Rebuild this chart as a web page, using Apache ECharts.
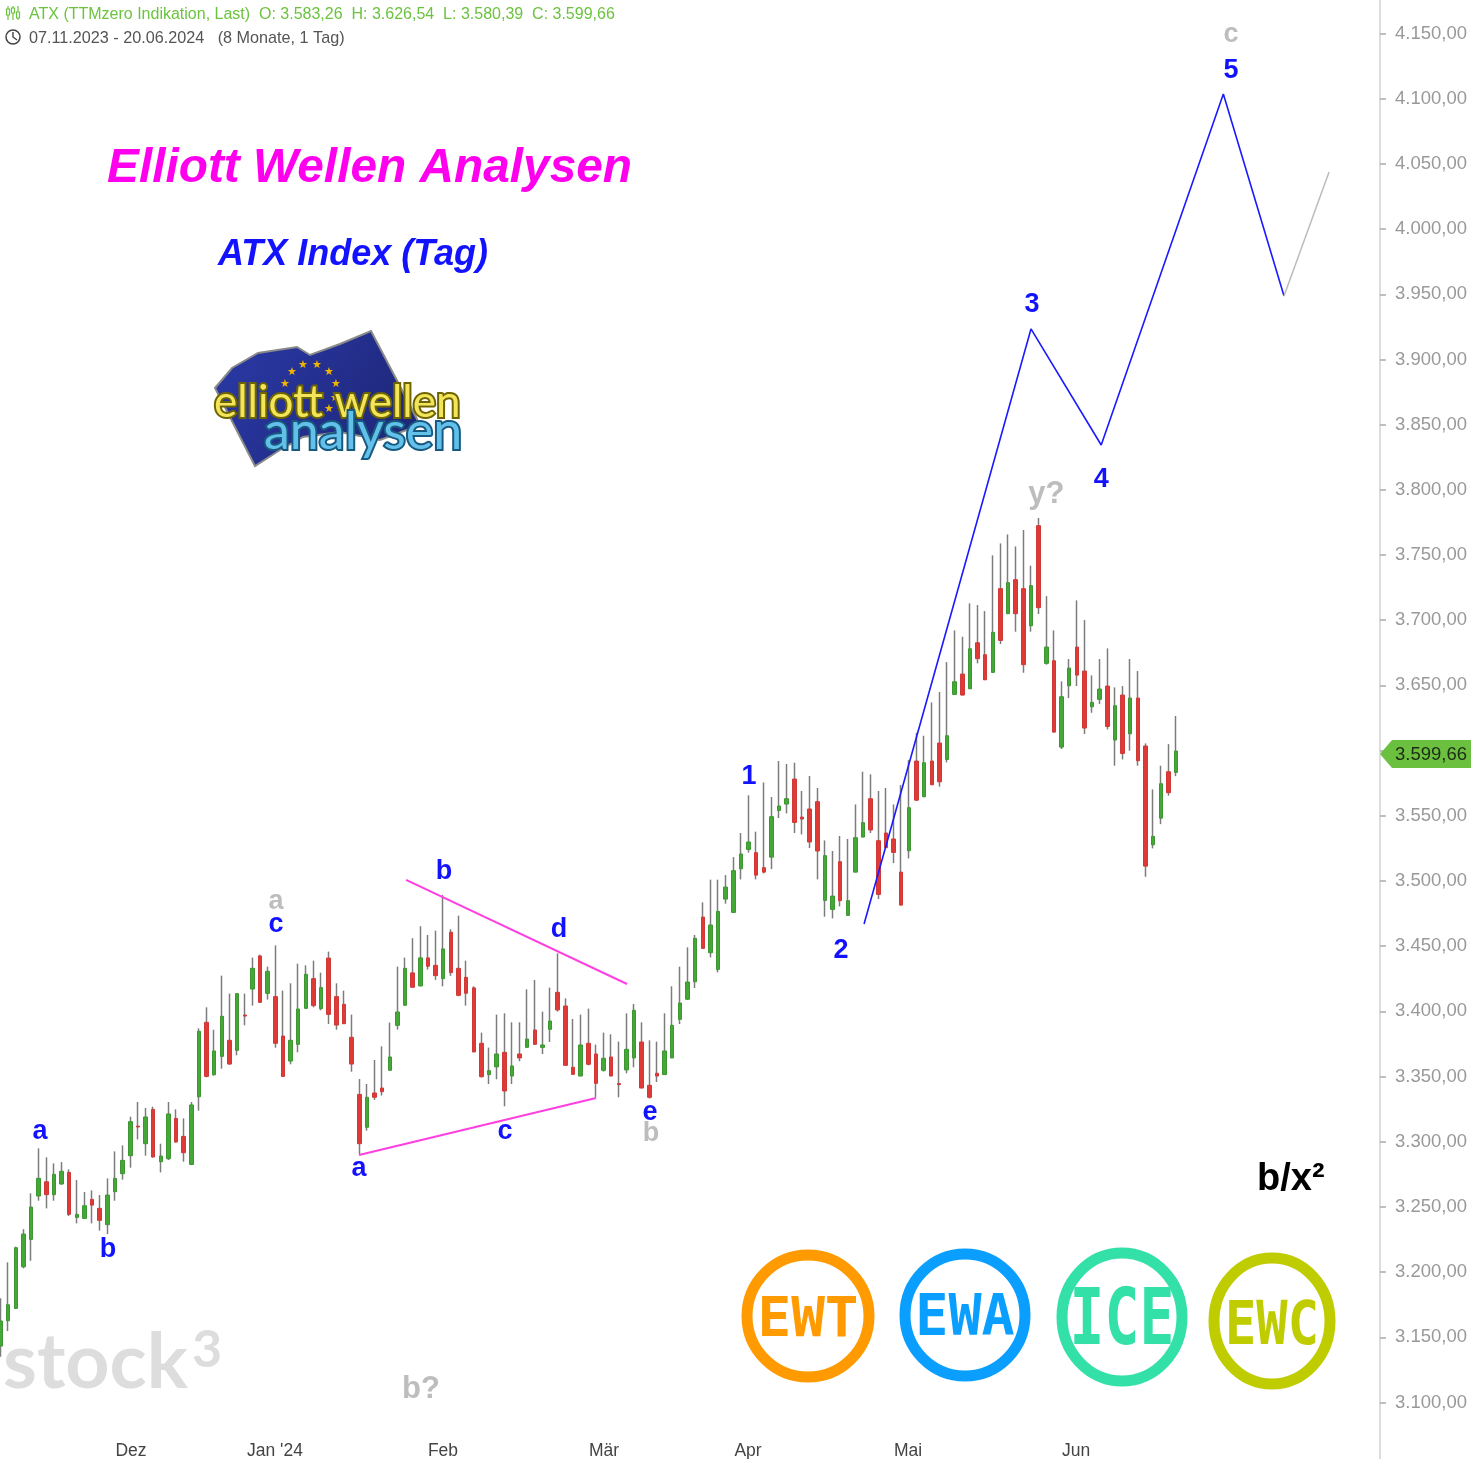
<!DOCTYPE html>
<html><head><meta charset="utf-8"><title>ATX Elliott Wellen</title>
<style>html,body{margin:0;padding:0;background:#fff}#c{width:1471px;height:1459px}</style>
<script src="https://cdn.jsdelivr.net/npm/echarts@6/dist/echarts.min.js"></script></head>
<body><div id="c"></div>
<script>
const opens=[3143.3,3162.7,3172.2,3204.1,3225.1,3258.4,3269.3,3259.4,3267.6,3276.5,
3242,3241.2,3255.8,3248.9,3236.4,3261.7,3275.5,3289.3,3312,3298.5,
3324.8,3284.7,3287,3317.9,3304.1,3282.6,3334.5,3391.6,3351.4,3365.5,
3377.8,3370.1,3397.2,3417.1,3442.5,3413.8,3411.3,3381.1,3361.9,3374.7,
3402.3,3425.1,3402.1,3440.9,3411.3,3405.4,3380.1,3336.3,3311.1,3337.4,
3341.2,3354.8,3389.3,3404.7,3429.5,3419.5,3441,3435.3,3425.1,3460.7,
3433,3426.1,3418,3375.5,3351.5,3357.4,3368.6,3350.4,3367.3,3372.4,
3385.7,3372.4,3386.2,3414.6,3404.1,3357.1,3350.4,3375.5,3367.3,3354.8,
3365,3344.6,3355.1,3364.3,3376.5,3343.3,3352.5,3351.5,3364.3,3393.9,
3409.3,3422.7,3472.3,3445,3432.2,3486.1,3475.9,3509.4,3524.2,3521.7,
3510.2,3518.3,3554.1,3559,3578.2,3549,3555.2,3560.8,3485.1,3478.2,
3514.8,3473.6,3506.8,3533.7,3563.1,3530.9,3536.8,3532.2,3506.8,3523.2,
3592,3564.6,3592,3605.8,3593.2,3643.1,3658.7,3647.4,3682.7,3673.5,
3660,3724.2,3705,3731.1,3724.2,3695.8,3772.5,3666.9,3668.9,3602.7,
3649.7,3679.4,3661,3633.6,3639.3,3649.5,3608.1,3642.6,3612.9,3640.3,
3603.5,3527.8,3548.2,3583.8,3583.26];
const closes=[3162.5,3175,3218.7,3229.2,3249.9,3271.9,3259.4,3275,3277.3,3244.3,
3244.3,3250.9,3251.4,3239.7,3259.1,3271.9,3285.7,3315.4,3311.3,3319,
3288.3,3289,3321.3,3299.8,3291.6,3328.2,3384.7,3350.1,3369.6,3396.2,
3359.6,3413.6,3396.4,3433,3406.9,3430.7,3375.5,3350.1,3377.8,3401.8,
3428.4,3404.4,3418.2,3397.7,3389.5,3390.5,3359.6,3298.5,3334.1,3334.1,
3338.4,3365,3399.5,3433,3418.5,3441,3434.6,3427.4,3447.9,3429.7,
3412.3,3413.9,3368.9,3349.9,3354.5,3367.3,3338.9,3358.1,3364.3,3378.8,
3374.7,3374.2,3392.6,3401.1,3358.6,3351.7,3374.2,3359.4,3344.8,3364,
3350.4,3343.8,3370.9,3400.8,3341.2,3334.1,3350.4,3369.6,3389.3,3406.4,
3422.5,3456,3448.3,3466.2,3476.7,3495.3,3507.9,3520.7,3529.9,3504.5,
3506.8,3549.3,3557.5,3563.1,3544.9,3547.5,3529.9,3523,3519.4,3488.4,
3484.9,3484.9,3533.2,3544.7,3539.1,3489.7,3525.5,3521.9,3481.5,3556.2,
3562,3590.7,3573.8,3576.1,3611.4,3652.8,3642.6,3678.1,3670.5,3654.3,
3690.7,3684.5,3728.8,3705,3665.9,3726.5,3709.6,3679.4,3614.2,3641.3,
3663.3,3657.9,3617.3,3637,3647.2,3618.5,3634.4,3597.8,3640.3,3592.2,
3511.4,3534.2,3574.6,3567.7,3599.66];
const highs=[3179.9,3207.5,3219.5,3233,3260.4,3294.9,3288,3283.4,3284.4,3278.8,
3270.6,3261.4,3262.7,3259.1,3271.9,3292.6,3297.2,3319.2,3330.5,3325.9,
3326.9,3298.5,3330.5,3324.8,3317.9,3330.5,3387,3403.1,3385.9,3427.4,
3413.6,3413.6,3413.6,3441.2,3443.5,3434.3,3450.6,3415.9,3421.5,3436.6,
3435.3,3438.9,3429.7,3445.8,3421.5,3415.9,3397.5,3348.1,3344.3,3362.7,
3373.2,3391.4,3434.3,3441.2,3456.1,3465.3,3458.6,3461.9,3489.3,3463,
3473.4,3438.9,3419.2,3383.7,3372.2,3397.5,3398.5,3391.6,3391.6,3416.9,
3424.1,3399.8,3418.2,3444.5,3410,3394.2,3397.5,3402.1,3374.5,3383.7,
3382.4,3376.8,3398.5,3405.7,3391.6,3377.8,3376.8,3398.5,3419.2,3434.3,
3449.1,3458.6,3483.6,3501,3501,3504.5,3518.3,3536.8,3565.7,3537.8,
3575.6,3564.4,3592,3589.7,3590.7,3569,3580.5,3571.3,3531.1,3523,
3534.5,3532.2,3558.7,3583.8,3581.8,3569,3571.3,3558.7,3573.6,3592.7,
3613.7,3611.4,3637,3644.9,3667.9,3692.2,3687.3,3712.9,3711.6,3707,
3749.7,3758.9,3765.8,3756.6,3769.2,3741.8,3778.4,3718.5,3692.2,3653.1,
3670.2,3715.2,3700.1,3657.7,3670.2,3678.4,3648.5,3649.5,3670.2,3661,
3605.5,3570.2,3588.4,3605,3626.54];
const lows=[3135.1,3154.8,3171.7,3202.9,3208.7,3254.8,3248.9,3254.8,3267,3243,
3237.4,3241,3237.4,3231.8,3229.2,3254.8,3270.9,3280.1,3301.8,3289.3,
3287.8,3276.5,3286,3299.3,3284.7,3282.1,3323.8,3349.4,3350.7,3356,
3359.1,3366.3,3389.3,3404.4,3406.7,3409,3372.1,3349.6,3359.4,3368.6,
3402.1,3403.1,3400.8,3390.3,3385.9,3390.3,3353.7,3290.6,3308.5,3332,
3335.4,3354.8,3386,3404.4,3418.2,3419.2,3432,3424.1,3419.2,3427.2,
3411.6,3404.4,3368.6,3349.2,3344.3,3347.9,3327.2,3344.3,3361.7,3372.2,
3374.5,3367.3,3376.5,3399.8,3358.4,3351.5,3350.2,3358.6,3334.1,3353.8,
3350.2,3334.1,3352.5,3357.1,3341,3333.1,3345.8,3351.2,3364,3390.3,
3408.7,3417.9,3448,3441.4,3429.9,3482.6,3475.6,3501.2,3521.7,3501.2,
3505.8,3509.1,3548.3,3551.8,3536.8,3535.7,3525.3,3501.2,3472.6,3471.3,
3480.5,3473.6,3506.6,3533.4,3536.8,3486.1,3525.3,3513.7,3481.3,3517.3,
3561.3,3564.3,3573.5,3572.3,3590.9,3642.8,3642.3,3647.2,3666.9,3654.1,
3659.7,3681.7,3704.7,3691.2,3659.7,3691.2,3704.7,3665.9,3613.9,3601.2,
3640.3,3649.5,3612.7,3629,3635.7,3616.2,3588.4,3593.2,3599.9,3588.4,
3503.2,3525,3543.6,3565.4,3580.39];

const barSlots=181;
const monthLabels=['Dez',"Jan '24",'Feb','Mär','Apr','Mai','Jun'];
const monthSlots=[17.1,35.96,57.97,79.06,97.93,118.9,140.9];

const triangleUpper=[[53.13,3500.8],[82.08,3421]];
const triangleLower=[[46.97,3289.8],[78.02,3333.5]];
const waveBlue=[[113.13,3467],[135,3923.4],[144.2,3834.4],[160.2,4103.6],[168.15,3948.7]];
const waveGrey=[[168.15,3948.7],[174.05,4043.8]];

const blueLabels=['a','b','c','b','d','c','a','e','1','2','3','4','5'];
const blueSlots=[5.18,14.08,36.1,58.1,73.17,66.1,46.97,85.1,98.06,110.1,135.14,144.2,161.2];
const blueValues=[3309,3218.5,3467.8,3508.4,3463.9,3309,3280.6,3324.3,3581.3,3447.8,3944,3809.1,4122.8];
const greyLabels=['a','b','b?','y?','c'];
const greySlots=[36.1,85.22,55.09,137,161.2];
const greyValues=[3485.4,3307.5,3111.9,3798.3,4150.4];
const greySizes=[27,27,31,31,27];

const FONT='"Liberation Sans",Arial,sans-serif';
const fmt=v=>{const [a,b]=v.toFixed(2).split('.');return a.replace(/\B(?=(\d{3})+$)/g,'.')+','+b;};
const ohlc=opens.map((o,i)=>[o,closes[i],lows[i],highs[i]]);
const bodies=opens.map((o,i)=>[o,closes[i],Math.min(o,closes[i]),Math.max(o,closes[i])]);
const labelSeries=(name,labels,slots,values,color,sizes)=>({
  name,type:'scatter',xAxisIndex:1,symbol:'circle',symbolSize:0,silent:true,z:6,
  itemStyle:{opacity:1},
  data:labels.map((t,i)=>({value:[slots[i],values[i]],name:t,
    label:{fontSize:sizes?sizes[i]:27}})),
  label:{show:true,position:'inside',align:'center',verticalAlign:'middle',offset:[0,2],formatter:p=>p.name,
    color,fontWeight:'bold',fontFamily:FONT,opacity:1}
});
const txt=(text,x,y,size,color,extra={},el={})=>({type:'text',x,y,silent:true,z:100,...el,
  style:{text,x:0,y:0,fontSize:size,fontFamily:FONT,fill:color,align:'left',verticalAlign:'middle',...extra}});
const ring=(cx,cy,rx,ry,color,label,sy,size,dy)=>[
  {type:'ellipse',silent:true,z:100,shape:{cx,cy,rx,ry},style:{fill:'none',stroke:color,lineWidth:11}},
  txt(label,cx,cy+dy,size,color,{align:'center',fontWeight:'bold',fontFamily:'"DejaVu Sans Mono",monospace'},{scaleY:sy})
];
const stars=[[292,372],[303,365],[317,365],[329,372],[336,384],[335,398],[329,409],[285,384]];

const chart=echarts.init(document.getElementById('c'),null,{renderer:'canvas'});
chart.setOption({
  animation:false,backgroundColor:'#ffffff',
  grid:{left:-3.32,right:92.7,top:-31.7,bottom:-8.7,containLabel:false,outerBoundsMode:'none'},
  xAxis:[
    {type:'category',data:Array.from({length:barSlots},(_,i)=>i),show:false,boundaryGap:true},
    {type:'value',min:-0.5,max:barSlots-0.5,position:'bottom',splitLine:{show:false},
     axisLine:{show:false},axisTick:{show:false},
     axisLabel:{show:true,inside:true,margin:8,customValues:monthSlots,color:'#444',fontSize:17.5,fontFamily:FONT,
       formatter:v=>monthLabels[monthSlots.indexOf(v)]||''}}
  ],
  yAxis:{type:'value',position:'right',min:3050,max:4200,interval:50,offset:1.7,splitLine:{show:false},
    axisLine:{show:true,onZero:false,lineStyle:{color:'#dddddd',width:2}},
    axisTick:{show:true,length:6,lineStyle:{color:'#aaaaaa',width:1.5}},
    axisLabel:{color:'#999999',fontSize:18.5,margin:15,padding:[2,0,0,0],fontFamily:FONT,formatter:fmt,showMinLabel:false,showMaxLabel:false}},
  series:[
    {name:'ATX wicks',type:'candlestick',data:ohlc,barWidth:1,z:2,silent:true,
     itemStyle:{color:'#7c7c7c',color0:'#7c7c7c',borderColor:'#7c7c7c',borderColor0:'#7c7c7c',borderWidth:1.5}},
    {name:'ATX',type:'candlestick',data:bodies,barWidth:4,z:3,silent:true,
     itemStyle:{color:'#43a835',color0:'#e03a36',borderColor:'#3d9632',borderColor0:'#cf3a38',borderWidth:1}},
    {name:'Dreieck oben',type:'line',xAxisIndex:1,data:triangleUpper,symbol:'none',z:5,lineStyle:{color:'#ff3fe0',width:2}},
    {name:'Dreieck unten',type:'line',xAxisIndex:1,data:triangleLower,symbol:'none',z:5,lineStyle:{color:'#ff3fe0',width:2}},
    {name:'Welle blau',type:'line',xAxisIndex:1,data:waveBlue,symbol:'none',z:5,lineStyle:{color:'#1a1aff',width:1.6}},
    {name:'Welle grau',type:'line',xAxisIndex:1,data:waveGrey,symbol:'none',z:5,lineStyle:{color:'#bbbbbb',width:1.5}},
    labelSeries('Zählung blau',blueLabels,blueSlots,blueValues,'#1212ff'),
    labelSeries('Zählung grau',greyLabels,greySlots,greyValues,'#bdbdbd',greySizes)
  ],
  graphic:{elements:[
    {type:'group',silent:true,x:6,y:6,z:100,children:[
      {type:'line',shape:{x1:2,y1:0,x2:2,y2:14},style:{stroke:'#6cc33f',lineWidth:1.2}},
      {type:'rect',shape:{x:0.5,y:3,width:3,height:6},style:{fill:'#fff',stroke:'#6cc33f',lineWidth:1.2}},
      {type:'line',shape:{x1:7,y1:0,x2:7,y2:14},style:{stroke:'#6cc33f',lineWidth:1.2}},
      {type:'rect',shape:{x:5.5,y:2,width:3,height:5},style:{fill:'#fff',stroke:'#6cc33f',lineWidth:1.2}},
      {type:'line',shape:{x1:12,y1:0,x2:12,y2:14},style:{stroke:'#6cc33f',lineWidth:1.2}},
      {type:'rect',shape:{x:10.5,y:6,width:3,height:6},style:{fill:'#fff',stroke:'#6cc33f',lineWidth:1.2}}
    ]},
    txt('ATX (TTMzero Indikation, Last)  O: 3.583,26  H: 3.626,54  L: 3.580,39  C: 3.599,66',29,15,16,'#6cc33f'),
    {type:'circle',silent:true,z:100,shape:{cx:13,cy:37,r:7},style:{fill:'none',stroke:'#444',lineWidth:1.5}},
    {type:'polyline',silent:true,z:100,shape:{points:[[13,32],[13,37],[17,40]]},style:{fill:'none',stroke:'#444',lineWidth:1.4}},
    txt('07.11.2023 - 20.06.2024   (8 Monate, 1 Tag)',29,39,16.2,'#555555'),
    txt('Elliott Wellen Analysen',107,169,47.8,'#ff00ee',{fontWeight:'bold',fontStyle:'italic'}),
    txt('ATX Index (Tag)',218,255,36,'#1212ff',{fontWeight:'bold',fontStyle:'italic'}),
    txt('b/x²',1257,1180,38,'#000000',{fontWeight:'bold'}),
    {type:'polygon',silent:true,z:100,shape:{points:[[215,388],[232,368],[258,353],[297,347],[310,355],[340,344],[371,331],[403,392],[420,425],[380,440],[340,432],[303,437],[280,450],[255,466]]},
     style:{fill:new echarts.graphic.LinearGradient(0,0,1,1,[{offset:0,color:'#2a3aa8'},{offset:0.5,color:'#242f8e'},{offset:1,color:'#1c2470'}]),stroke:'#8a8a8a',lineWidth:2}},
    ...stars.map(([x,y])=>txt('★',x,y,11,'#f0b400',{align:'center',fontFamily:'"DejaVu Sans"'})),
    txt('elliott wellen',214,403,44,'#f3e55a',{stroke:'#6e6400',lineWidth:4,fontFamily:'Lato,"Liberation Sans"'}),
    txt('analysen',264,432,52,'#62c0ea',{stroke:'#17597f',lineWidth:4,fontFamily:'Lato,"Liberation Sans"'}),
    txt('stock',3,1363,76,'#dddddd',{fontFamily:'Lato,"Liberation Sans"',fontWeight:'bold'},{scaleX:1.015}),
    txt('3',192,1350,52,'#dddddd',{fontFamily:'Lato,"Liberation Sans"',fontWeight:'bold'}),
    ...ring(808,1316,61,61,'#ff9a00','EWT',1,56,5),
    ...ring(965,1315,60,61,'#0a9fff','EWA',1.05,55,5),
    ...ring(1122,1317,60,64,'#33e0a8','ICE',1.35,58,7),
    ...ring(1272,1321,58,63,'#bfcc00','EWC',1.15,52,7),
    {type:'polygon',silent:true,z:100,shape:{points:[[1380,754],[1392,740],[1471,740],[1471,768],[1392,768]]},style:{fill:'#6cc040'}},
    txt(fmt(closes[closes.length-1]),1395,755,18.5,'#1c2c14')
  ]}
});
</script></body></html>
